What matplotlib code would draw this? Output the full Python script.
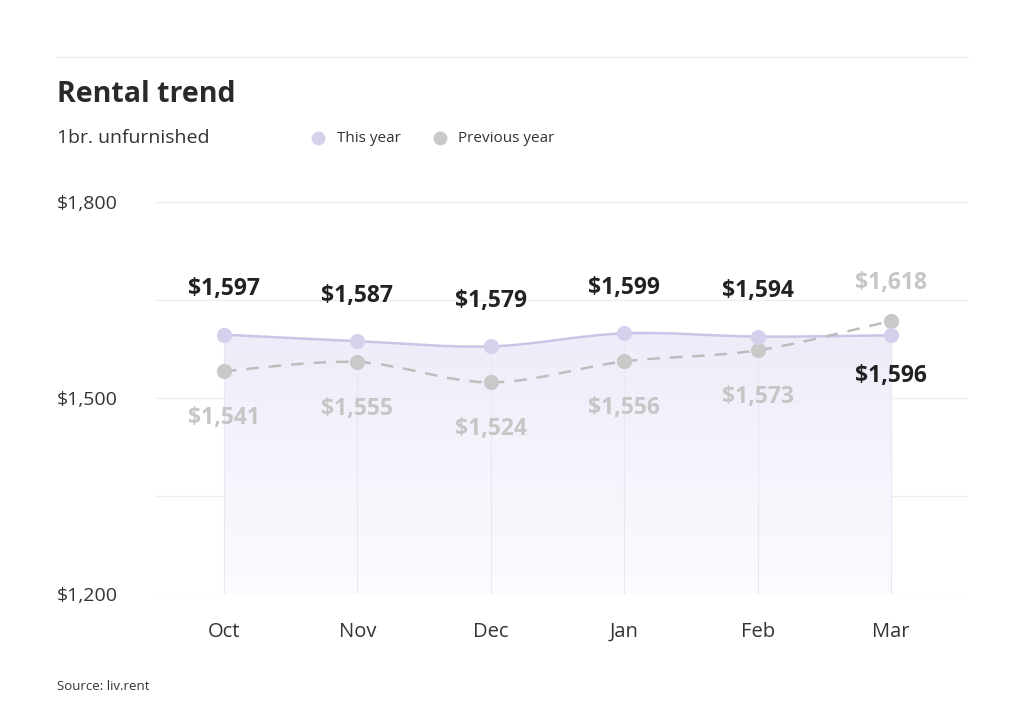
import numpy as np
import matplotlib.pyplot as plt
from matplotlib.path import Path
from matplotlib.patches import PathPatch
from matplotlib.colors import LinearSegmentedColormap

# ==============================
# Daten
# ==============================
months = ["Oct", "Nov", "Dec", "Jan", "Feb", "Mar"]
this_year = [1597, 1587, 1579, 1599, 1594, 1596]
previous_year = [1541, 1555, 1524, 1556, 1573, 1618]
y_ticks = [1200, 1500, 1800]
y_grid = [1200, 1350, 1500, 1650, 1800]

c_this = "#d6d0ec"
c_this_line = "#cbc4e6"
c_prev = "#c9c9c9"
c_prev_line = "#bdbdbd"
c_dark = "#222222"
c_grey_txt = "#c6c6c6"

plt.rcParams["font.family"] = ["Open Sans", "DejaVu Sans"]


def smooth_path(xs, ys, close_bottom=None):
    # Catmull-Rom Kurve als Bezier-Pfad
    xs = np.asarray(xs, float)
    ys = np.asarray(ys, float)
    n = len(xs)
    verts = [(xs[0], ys[0])]
    codes = [Path.MOVETO]
    t = 0.5
    for i in range(n - 1):
        p0 = (xs[max(i - 1, 0)], ys[max(i - 1, 0)])
        p1 = (xs[i], ys[i])
        p2 = (xs[i + 1], ys[i + 1])
        p3 = (xs[min(i + 2, n - 1)], ys[min(i + 2, n - 1)])
        c1 = (p1[0] + (p2[0] - p0[0]) * t / 3, p1[1] + (p2[1] - p0[1]) * t / 3)
        c2 = (p2[0] - (p3[0] - p1[0]) * t / 3, p2[1] - (p3[1] - p1[1]) * t / 3)
        verts += [c1, c2, p2]
        codes += [Path.CURVE4] * 3
    if close_bottom is not None:
        verts += [(xs[-1], close_bottom), (xs[0], close_bottom), (xs[0], ys[0])]
        codes += [Path.LINETO, Path.LINETO, Path.CLOSEPOLY]
    return Path(verts, codes)


fig = plt.figure(figsize=(10.24, 7.17), dpi=100)
ax = fig.add_axes([155 / 1024, 1 - 594 / 717, 813 / 1024, 392 / 717])

x = np.arange(len(months))
ax.set_xlim(-0.517, 5.577)
ax.set_ylim(1200, 1800)

# Gitter
for g in y_grid:
    ax.axhline(g, color="#eeeeee", lw=0.9, zorder=0)

# Fläche mit Verlauf
area = PathPatch(smooth_path(x, this_year, close_bottom=1200), facecolor="none", edgecolor="none")
ax.add_patch(area)
grad = np.linspace(1, 0, 256).reshape(-1, 1)
cmap = LinearSegmentedColormap.from_list("g", ["#fcfbff", "#efecf9"])
im = ax.imshow(grad, extent=[x[0], x[-1], 1200, max(this_year)], aspect="auto",
               cmap=cmap, origin="upper", zorder=1)
im.set_clip_path(area)

# vertikale Linien
for xi, v in zip(x, this_year):
    ax.plot([xi, xi], [1200, v], color="#e9e7f0", lw=0.8, zorder=1.5)

# Linien
ax.add_patch(PathPatch(smooth_path(x, this_year), facecolor="none", edgecolor=c_this_line, lw=1.8, zorder=3))
ax.add_patch(PathPatch(smooth_path(x, previous_year), facecolor="none", edgecolor=c_prev_line,
                       lw=1.8, linestyle=(0, (5, 4)), zorder=3))
ax.scatter(x, previous_year, s=120, color=c_prev, zorder=4, linewidths=0)
ax.scatter(x, this_year, s=120, color=c_this, zorder=5, linewidths=0)

# Beschriftungen
for xi, a, b in zip(x, this_year, previous_year):
    if a >= b:
        ya, va_a, yb, va_b = 24, "bottom", -25, "top"
    else:
        ya, va_a, yb, va_b = -21, "top", 19, "bottom"
    ax.annotate(f"${a:,}", (xi, a), xytext=(0, ya), textcoords="offset points",
                ha="center", va=va_a, fontsize=16.5, fontweight="bold", color=c_dark, zorder=6)
    ax.annotate(f"${b:,}", (xi, b), xytext=(0, yb), textcoords="offset points",
                ha="center", va=va_b, fontsize=16.5, fontweight="bold", color=c_grey_txt, zorder=6)

ax.set_xticks(x)
ax.set_xticklabels(months, fontsize=14.5, color="#333333")
ax.tick_params(axis="x", length=0, pad=20)
ax.set_yticks(y_ticks)
ax.set_yticklabels([f"${t:,}" for t in y_ticks], fontsize=14, color="#333333")
ax.tick_params(axis="y", length=0, pad=0)
for lab in ax.get_yticklabels():
    lab.set_horizontalalignment("left")
    lab.set_x(-(155 - 57) / 813)
for s in ax.spines.values():
    s.set_visible(False)

# Titel, Legende, Quelle
fig.add_artist(plt.Line2D([57 / 1024, 968 / 1024], [1 - 57 / 717] * 2, color="#eeeeee", lw=0.9))
fig.text(57 / 1024, 1 - 95 / 717, "Rental trend", fontsize=20.5, fontweight="bold", color="#2a2a2a", va="center")
fig.text(57 / 1024, 1 - 138 / 717, "1br. unfurnished", fontsize=14, color="#333333", va="center")
fig.add_artist(plt.Line2D([318 / 1024], [1 - 138 / 717], marker="o", ms=10, color=c_this, mew=0))
fig.text(337 / 1024, 1 - 139 / 717, "This year", fontsize=11, color="#333333", va="center")
fig.add_artist(plt.Line2D([440 / 1024], [1 - 138 / 717], marker="o", ms=10, color=c_prev, mew=0))
fig.text(458 / 1024, 1 - 139 / 717, "Previous year", fontsize=11, color="#333333", va="center")
fig.text(57 / 1024, 1 - 686 / 717, "Source: liv.rent", fontsize=9.5, color="#333333", va="center")

fig.savefig("out.png", dpi=100, facecolor="white")
